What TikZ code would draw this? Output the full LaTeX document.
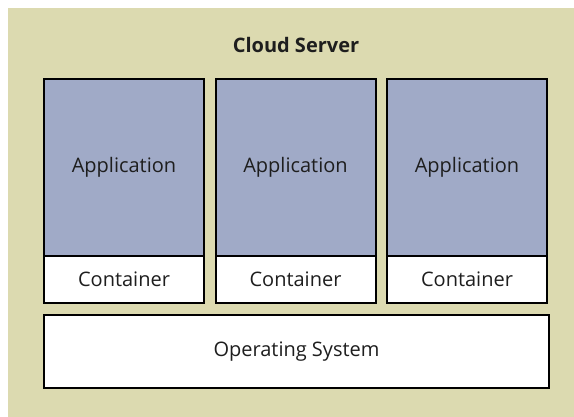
\documentclass[tikz,border=0pt]{standalone}
\usepackage{fontspec}
\setmainfont{Open Sans}
\definecolor{beige}{RGB}{220,218,176}
\definecolor{appblue}{RGB}{160,170,199}
\definecolor{txt}{RGB}{30,30,30}
\tikzset{
  box/.style={draw=black, line width=2pt, inner sep=0pt, outer sep=0pt, text=txt, font=\fontsize{20}{24}\selectfont},
  app/.style={box, fill=appblue, minimum width=160pt, minimum height=177pt},
  cont/.style={box, fill=white, minimum width=160pt, minimum height=47pt},
  osbox/.style={box, fill=white, minimum width=505pt, minimum height=73pt},
}
\begin{document}
\begin{tikzpicture}[x=1pt,y=-1pt]
\useasboundingbox (0,0) rectangle (574,417);
\fill[white] (0,0) rectangle (574,417);
\fill[beige] (8,8) rectangle (574,417);
\node[font=\fontsize{20}{24}\selectfont\bfseries, text=txt] (title) at (296,45) {Cloud Server};
\node[app, anchor=north west] (a1) at (44,79) {Application};
\node[app, anchor=north west] (a2) at (215.5,79) {Application};
\node[app, anchor=north west] (a3) at (387,79) {Application};
\node[cont, anchor=north] (c1) at (a1.south) {Container};
\node[cont, anchor=north] (c2) at (a2.south) {Container};
\node[cont, anchor=north] (c3) at (a3.south) {Container};
\node[osbox, anchor=north west] (os) at (44,315) {Operating System};
\end{tikzpicture}
\end{document}
